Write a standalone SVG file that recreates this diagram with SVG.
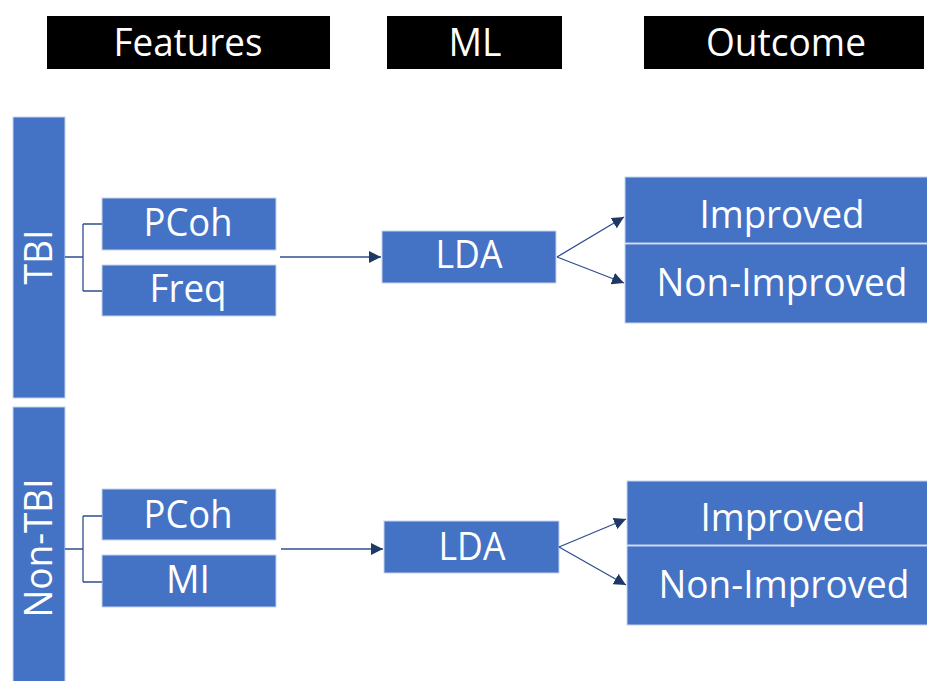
<svg xmlns="http://www.w3.org/2000/svg" width="927" height="681" viewBox="0 0 927 681">
<style>
.hdr{fill:#000000}
.box{fill:#4472C4;stroke:#C5D3EE;stroke-width:1}
.t{font-family:"Open Sans","Liberation Sans",sans-serif;fill:#FFFFFF;font-size:38px;text-anchor:middle}
.c{fill:none;stroke:#2F4F8F;stroke-width:1.3}
</style>
<defs>
<marker id="ah" viewBox="0 0 10 10" refX="10" refY="5" markerWidth="7" markerHeight="7" orient="auto" markerUnits="userSpaceOnUse">
<path d="M0,0 L10,5 L0,10 z" fill="#203864"/>
</marker>
<marker id="ah2" viewBox="0 0 10 10" refX="10" refY="5" markerWidth="12" markerHeight="12" orient="auto" markerUnits="userSpaceOnUse">
<path d="M0,0 L10,5 L0,10 z" fill="#203864"/>
</marker>
</defs>
<rect width="927" height="681" fill="#FFFFFF"/>
<g id="header-features"><rect class="hdr" x="47" y="16" width="283" height="53"/><text class="t" x="188" y="56" textLength="149" lengthAdjust="spacingAndGlyphs">Features</text></g>
<g id="header-ml"><rect class="hdr" x="387" y="16" width="175" height="53"/><text class="t" x="475" y="56" textLength="53" lengthAdjust="spacingAndGlyphs">ML</text></g>
<g id="header-outcome"><rect class="hdr" x="644" y="16" width="280" height="53"/><text class="t" x="786" y="56" textLength="160" lengthAdjust="spacingAndGlyphs">Outcome</text></g>

<g id="tbi"><rect class="box" x="13" y="117" width="52" height="281"/><text class="t" transform="translate(52,257) rotate(-90)" textLength="55" lengthAdjust="spacingAndGlyphs">TBI</text></g>
<g id="tbi-pcoh"><rect class="box" x="102" y="198" width="174" height="52"/><text class="t" x="188" y="236" textLength="89" lengthAdjust="spacingAndGlyphs">PCoh</text></g>
<g id="tbi-freq"><rect class="box" x="102" y="265" width="174" height="51"/><text class="t" x="188" y="302" textLength="77" lengthAdjust="spacingAndGlyphs">Freq</text></g>
<g id="tbi-lda"><rect class="box" x="382" y="231" width="174" height="52"/><text class="t" x="469" y="268" textLength="67" lengthAdjust="spacingAndGlyphs">LDA</text></g>
<g id="tbi-improved"><rect class="box" x="625" y="177" width="305" height="66"/><text class="t" x="782" y="228" textLength="165" lengthAdjust="spacingAndGlyphs">Improved</text></g>
<g id="tbi-nonimproved"><rect class="box" x="625" y="244" width="305" height="79"/><text class="t" x="782" y="296" textLength="251" lengthAdjust="spacingAndGlyphs">Non-Improved</text></g>

<g id="nontbi"><rect class="box" x="13" y="407" width="52" height="280"/><text class="t" transform="translate(52,548) rotate(-90)" textLength="139" lengthAdjust="spacingAndGlyphs">Non-TBI</text></g>
<g id="nontbi-pcoh"><rect class="box" x="102" y="489" width="174" height="51"/><text class="t" x="188" y="528" textLength="89" lengthAdjust="spacingAndGlyphs">PCoh</text></g>
<g id="nontbi-mi"><rect class="box" x="102" y="555" width="174" height="52"/><text class="t" x="188" y="593" textLength="44" lengthAdjust="spacingAndGlyphs">MI</text></g>
<g id="nontbi-lda"><rect class="box" x="384" y="521" width="175" height="52"/><text class="t" x="472" y="560" textLength="67" lengthAdjust="spacingAndGlyphs">LDA</text></g>
<g id="nontbi-improved"><rect class="box" x="627" y="481" width="305" height="64"/><text class="t" x="783" y="531" textLength="165" lengthAdjust="spacingAndGlyphs">Improved</text></g>
<g id="nontbi-nonimproved"><rect class="box" x="627" y="546" width="305" height="79"/><text class="t" x="784" y="598" textLength="251" lengthAdjust="spacingAndGlyphs">Non-Improved</text></g>

<g id="connectors">
<path class="c" d="M65,257 H83 M83,224 V291 M83,224 H102 M83,291 H102"/>
<path class="c" d="M65,549 H83 M83,516 V582 M83,516 H102 M83,582 H102"/>
<line class="c" x1="280" y1="257" x2="381" y2="257" marker-end="url(#ah2)"/>
<line class="c" x1="557" y1="257" x2="624" y2="217" marker-end="url(#ah2)"/>
<line class="c" x1="557" y1="257" x2="624" y2="283" marker-end="url(#ah2)"/>
<line class="c" x1="281" y1="549" x2="383" y2="549" marker-end="url(#ah2)"/>
<line class="c" x1="559" y1="547" x2="626" y2="519" marker-end="url(#ah2)"/>
<line class="c" x1="559" y1="547" x2="626" y2="585" marker-end="url(#ah2)"/>
</g>
</svg>
